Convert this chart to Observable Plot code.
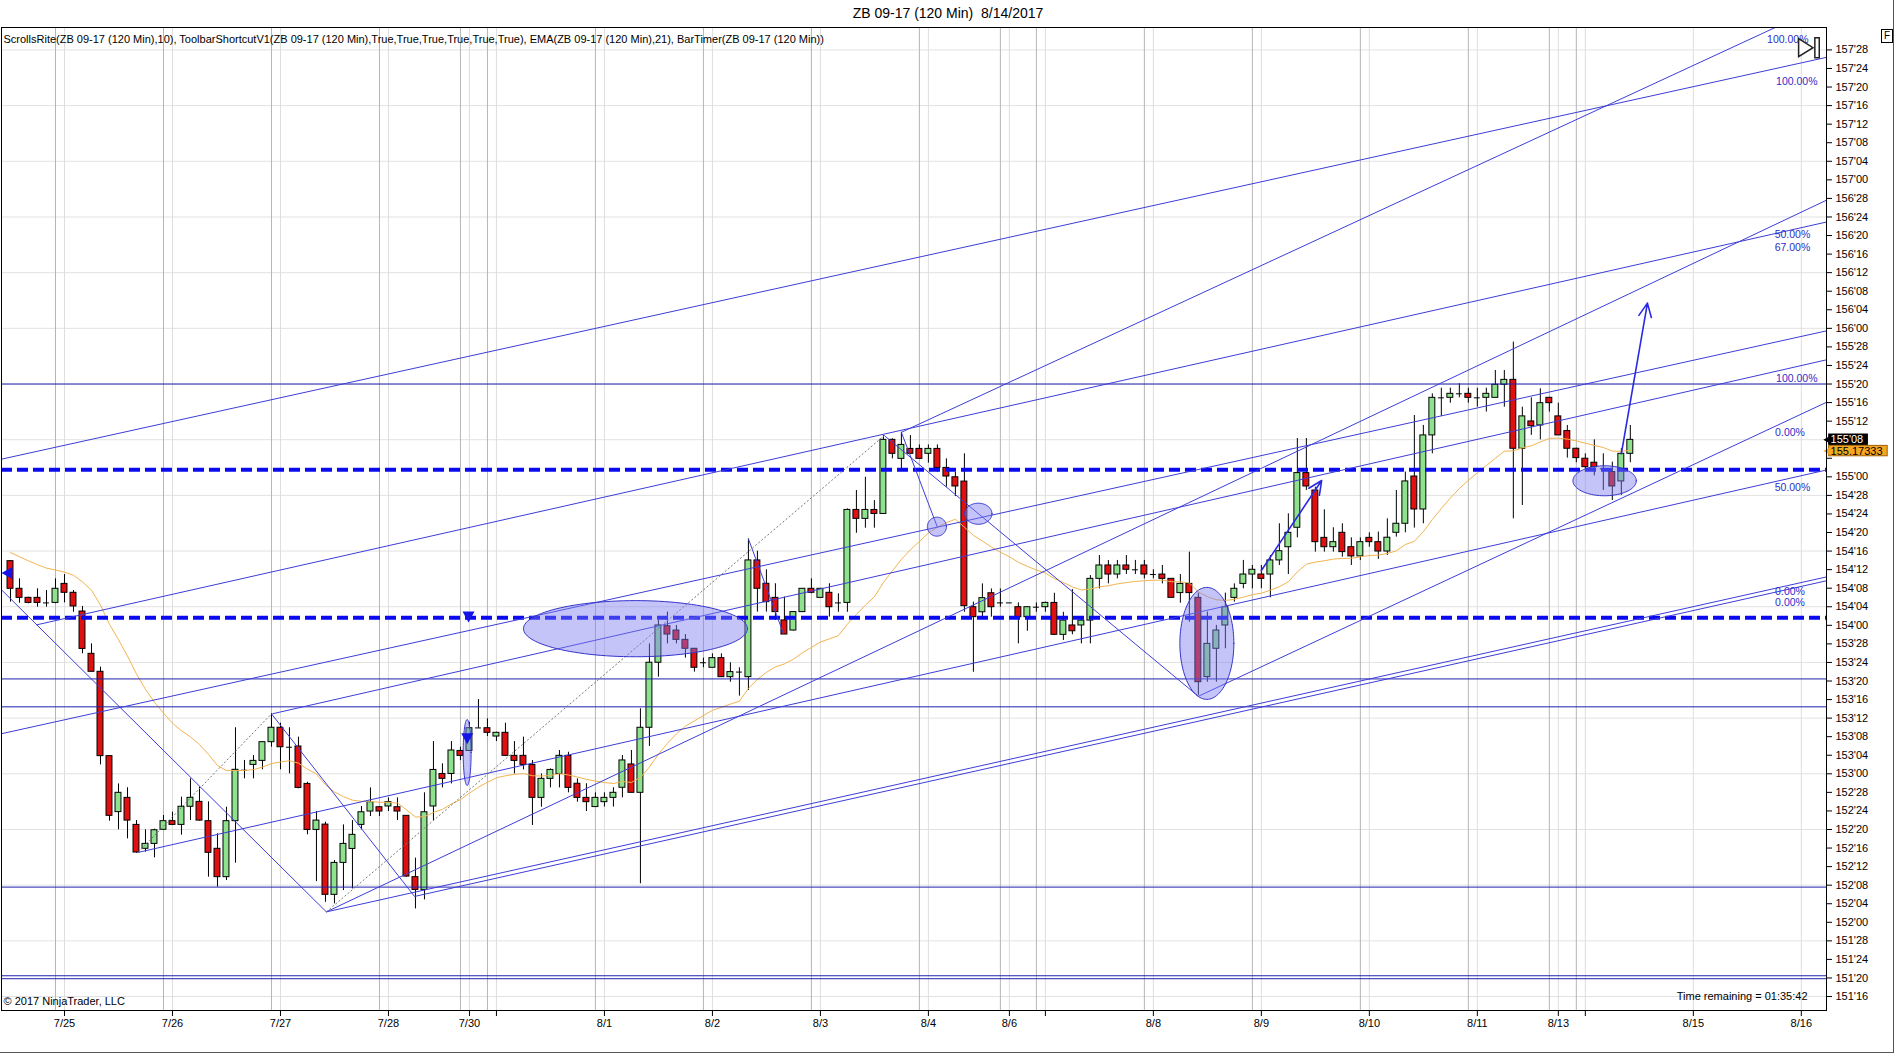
<!DOCTYPE html>
<html>
<head>
<meta charset="utf-8">
<script src="https://cdn.jsdelivr.net/npm/d3@7"></script>
<script src="https://cdn.jsdelivr.net/npm/@observablehq/plot@0.6"></script>
<style>
  body { margin: 0; background: #fff; font-family: "Liberation Sans", Arial, sans-serif; }
  #wrap { position: relative; width: 1896px; height: 1055px; overflow: hidden; }
  #title { height: 26px; line-height: 26px; text-align: center; font-size: 14px; white-space: pre; }
  #fbox { position: absolute; left: 1881px; top: 29px; width: 10px; height: 12px; border: 1px solid #000; font-size: 10px; line-height: 12px; text-align: center; background: #fff; }
  #edge { position: absolute; left: 0; top: 0; width: 1893px; height: 1052px; border-right: 1px solid #555; border-bottom: 1px solid #555; pointer-events: none; }
</style>
</head>
<body>
<div id="wrap">
  <div id="title">ZB 09-17 (120 Min)  8/14/2017</div>
  <div id="chart"></div>
  <div id="fbox">F</div>
  <div id="edge"></div>
</div>
<script>
// 120 min bars (bar 1 = leftmost)
const opens = [
  154.432,154.246,154.185,154.185,154.153,154.151,154.279,154.219,154.093,153.808,
  153.687,153.119,152.742,152.838,152.656,152.495,152.528,152.623,152.681,152.656,
  152.778,152.811,152.681,152.495,152.304,152.681,153.027,153.060,153.087,153.213,
  153.310,153.179,153.184,152.932,152.622,152.658,152.185,152.400,152.494,152.656,
  152.746,152.775,152.780,152.775,152.717,152.304,152.218,152.780,152.999,152.999,
  153.154,153.154,153.307,153.307,153.251,153.276,153.121,153.121,153.060,152.838,
  152.966,152.999,153.121,152.933,152.838,152.776,152.809,152.838,152.906,153.063,
  152.872,153.310,153.748,153.994,153.965,153.902,153.842,153.748,153.714,153.779,
  153.651,153.685,153.651,154.437,154.280,154.185,154.033,153.965,154.089,154.246,
  154.185,154.219,154.151,154.151,154.777,154.717,154.777,154.750,155.249,155.121,
  155.188,155.188,155.155,155.188,155.060,154.997,154.968,154.122,154.088,154.216,
  154.151,154.151,154.122,154.055,154.122,154.122,154.151,153.936,153.999,153.999,
  154.032,154.313,154.403,154.342,154.403,154.374,154.403,154.342,154.342,154.313,
  154.217,154.279,154.185,153.651,153.842,153.999,154.185,154.279,154.342,154.342,
  154.342,154.437,154.526,154.657,155.025,154.908,154.589,154.526,154.623,154.526,
  154.464,154.589,154.560,154.497,154.623,154.684,155.002,154.780,155.279,155.532,
  155.532,155.559,155.559,155.532,155.532,155.532,155.620,155.653,155.189,155.373,
  155.346,155.532,155.407,155.308,155.189,155.122,155.095,155.054,155.032,154.969,155.155
];
const highs = [
  154.436,154.313,154.189,154.246,154.234,154.313,154.342,154.234,154.127,153.875,
  153.718,153.119,152.932,152.906,152.685,152.623,152.627,152.719,152.742,152.843,
  152.966,152.910,152.811,152.596,152.775,153.310,153.090,153.123,153.217,153.404,
  153.341,153.310,153.247,152.943,152.746,152.674,152.416,152.656,152.685,152.780,
  152.905,152.780,152.838,152.838,152.717,152.432,152.872,153.217,153.067,153.217,
  153.179,153.347,153.500,153.370,153.280,153.341,153.217,153.247,153.089,152.999,
  153.033,153.157,153.145,152.966,152.933,152.872,152.872,152.906,153.123,153.157,
  153.438,153.875,154.033,154.089,153.999,153.938,153.842,153.779,153.808,153.808,
  153.748,153.714,154.582,154.499,154.374,154.280,154.190,154.093,154.246,154.313,
  154.246,154.280,154.212,154.784,154.908,154.997,154.840,155.278,155.256,155.300,
  155.278,155.215,155.215,155.215,155.121,155.031,155.155,154.156,154.279,154.245,
  154.245,154.151,154.151,154.122,154.151,154.156,154.216,154.088,154.241,154.055,
  154.335,154.470,154.436,154.437,154.470,154.437,154.437,154.374,154.403,154.313,
  154.342,154.493,154.217,154.089,153.999,154.217,154.279,154.437,154.403,154.403,
  154.470,154.684,154.751,155.258,155.258,154.930,154.778,154.657,154.684,154.589,
  154.589,154.623,154.628,154.717,154.908,155.032,155.413,155.346,155.559,155.597,
  155.597,155.627,155.597,155.597,155.597,155.716,155.716,155.907,155.469,155.532,
  155.593,155.536,155.496,155.346,155.193,155.155,155.249,155.155,155.099,155.189,155.346
];
const lows = [
  154.156,154.149,154.145,154.122,154.122,154.145,154.151,154.088,153.808,153.687,
  153.060,152.681,152.623,152.562,152.465,152.472,152.434,152.618,152.652,152.587,
  152.685,152.681,152.304,152.237,152.281,152.398,152.966,152.966,153.027,153.179,
  153.027,153.000,152.899,152.589,152.274,152.135,152.124,152.214,152.225,152.622,
  152.712,152.712,152.746,152.685,152.304,152.090,152.151,152.685,152.905,152.932,
  153.089,153.150,153.307,153.251,153.217,153.116,152.999,153.026,152.652,152.775,
  152.905,152.905,152.872,152.809,152.746,152.776,152.776,152.776,152.838,152.872,
  152.259,153.184,153.651,153.875,153.875,153.779,153.685,153.714,153.714,153.651,
  153.617,153.523,153.561,154.089,154.089,154.033,153.938,153.961,154.089,154.212,
  154.185,154.055,154.088,154.088,154.620,154.654,154.654,154.750,155.121,155.054,
  155.155,155.121,155.092,155.031,154.930,154.867,154.088,153.684,154.055,154.055,
  154.122,154.151,153.875,153.960,154.088,154.088,153.931,153.898,153.936,153.875,
  153.875,154.245,154.279,154.313,154.342,154.342,154.313,154.313,154.279,154.185,
  154.149,154.021,153.528,153.617,153.617,153.842,154.156,154.246,154.246,154.246,
  154.185,154.403,154.342,154.589,154.908,154.493,154.493,154.493,154.459,154.403,
  154.437,154.526,154.444,154.471,154.594,154.623,154.655,154.684,155.155,155.407,
  155.496,155.532,155.496,155.469,155.436,155.532,155.469,154.717,154.807,155.279,
  155.249,155.436,155.279,155.126,155.095,155.032,155.006,154.908,154.841,154.875,155.095
];
const closes = [
  154.246,154.185,154.151,154.151,154.151,154.246,154.219,154.127,153.841,153.687,
  153.119,152.717,152.872,152.685,152.470,152.528,152.620,152.681,152.656,152.778,
  152.838,152.685,152.468,152.304,152.681,153.027,153.024,153.087,153.213,153.310,
  153.179,153.179,152.905,152.622,152.685,152.185,152.400,152.528,152.589,152.741,
  152.809,152.746,152.809,152.746,152.308,152.218,152.741,153.026,152.966,153.157,
  153.121,153.307,153.309,153.276,153.276,153.121,153.087,153.060,152.838,152.966,
  153.026,153.121,152.905,152.838,152.809,152.838,152.838,152.872,153.090,152.872,
  153.310,153.748,153.999,153.938,153.902,153.842,153.714,153.748,153.779,153.651,
  153.685,153.685,154.437,154.246,154.156,154.089,153.938,154.089,154.246,154.219,
  154.246,154.122,154.151,154.777,154.717,154.777,154.750,155.249,155.155,155.215,
  155.155,155.121,155.188,155.060,155.002,154.935,154.129,154.055,154.183,154.122,
  154.151,154.151,154.055,154.122,154.122,154.151,153.936,154.032,153.960,154.032,
  154.313,154.403,154.342,154.403,154.374,154.374,154.342,154.342,154.313,154.185,
  154.279,154.217,153.617,153.875,153.965,154.122,154.246,154.342,154.374,154.313,
  154.437,154.499,154.623,155.025,154.935,154.560,154.526,154.560,154.493,154.464,
  154.560,154.560,154.497,154.590,154.684,154.969,154.780,155.279,155.532,155.532,
  155.559,155.559,155.532,155.532,155.559,155.620,155.653,155.189,155.407,155.341,
  155.496,155.496,155.279,155.189,155.126,155.065,155.065,155.054,154.935,155.155,155.249
];
const emaStart = 154.49;   // EMA(21) value at the first visible bar

// date axis (bar index) and session separators
const dateTickK = [7, 19, 31, 43, 52, 55, 67, 79, 91, 103, 112, 116, 128, 140, 152, 164, 173, 176, 188, 200];
const dateTickText = ["7/25","7/26","7/27","7/28","7/30","","8/1","8/2","8/3","8/4","8/6","","8/8","8/9","8/10","8/11","8/13","","8/15","8/16"];
const sessionK = [6, 18, 30, 42, 51, 54, 66, 78, 90, 102, 111, 115, 127, 139, 151, 163, 172, 175];

// drawn objects
const hLevels = [155.625, 153.639, 153.451, 152.237, 151.640, 151.620];
const dashLevels = [155.047, 154.051];
const trendK1 = [0, 0, 3.9, 15.2, 30.1, 36.1, 100, 133, 36.1, 45.9, 0, 30.0, 100, 98.1, 83];
const trendP1 = [155.119, 153.270, 154.003, 152.471, 153.404, 152.07, 155.300, 153.522, 152.07, 152.174, 154.239, 153.404, 155.300, 155.278, 154.582];
const trendK2 = [202.8, 202.8, 202.8, 202.8, 202.8, 202.8, 197.1, 202.8, 202.8, 202.8, 36.1, 45.9, 104.0, 133, 86.9];
const trendP2 = [157.825, 155.983, 156.716, 155.046, 155.788, 156.863, 158.026, 155.502, 154.326, 154.300, 152.07, 152.174, 154.661, 153.522, 153.943];
const dotK1 = [15.2, 36.1], dotP1 = [152.471, 152.07], dotK2 = [30.0, 98.1], dotP2 = [153.404, 155.278];
const arrowK1 = [140, 180], arrowP1 = [154.369, 155.155], arrowK2 = [146.7, 182.9], arrowP2 = [154.975, 156.17];
// ellipses as [bar from, bar to, price from, price to]
const ellipses = [
  [58.06, 82.94, 153.785, 154.163],
  [102.94, 105.06, 154.597, 154.725],
  [107.08, 110.12, 154.677, 154.819],
  [131.0, 137.0, 153.498, 154.252],
  [174.68, 181.72, 154.869, 155.071],
  [51.36, 52.24, 152.918, 153.362]
];
const chanText = ["100.00%", "100.00%", "50.00%", "67.00%", "100.00%", "0.00%", "50.00%", "0.00%", "0.00%"];
const chanK = [200.8, 201.8, 201.0, 201.0, 201.8, 200.4, 201.0, 200.4, 200.4];
const chanP = [157.945, 157.659, 156.632, 156.541, 155.662, 155.298, 154.925, 154.228, 154.152];
const markLeftK = [0.67], markLeftP = [154.352];
const markDownK = [51.9, 51.75], markDownP = [154.06, 153.24];
const iconK = [200.5, 201.75], iconP = [157.89, 157.89];   // scroll-to-end button
const badgeP = [155.25, 155.17333];
const badgeText = ["155'08", "155.17333"];
const hiddenTicks = [155.25, 155.125];   // axis labels covered by the price badges
const headerText = "ScrollsRite(ZB 09-17 (120 Min),10), ToolbarShortcutV1(ZB 09-17 (120 Min),True,True,True,True,True,True), EMA(ZB 09-17 (120 Min),21), BarTimer(ZB 09-17 (120 Min))";

// build tables
const bars = closes.map((c, i) => ({k: i + 1, o: opens[i], h: highs[i], l: lows[i], c}));
const ema = [];
closes.forEach((c, i) => ema.push(i === 0 ? emaStart : ema[i - 1] + (2 / 22) * (c - ema[i - 1])));
const emaRows = ema.map((v, i) => ({k: i + 1, v}));
const doji = bars.filter(d => Math.abs(d.c - d.o) < 0.004);
const ups = bars.filter(d => d.c - d.o >= 0.004);
const downs = bars.filter(d => d.o - d.c >= 0.004);
const trends = trendK1.map((k, i) => ({x1: k, y1: trendP1[i], x2: trendK2[i], y2: trendP2[i]}));
const dotted = dotK1.map((k, i) => ({x1: k, y1: dotP1[i], x2: dotK2[i], y2: dotP2[i]}));
const arrows = arrowK1.map((k, i) => ({x1: k, y1: arrowP1[i], x2: arrowK2[i], y2: arrowP2[i]}));
const ellRows = ellipses.flatMap(([k1, k2, p1, p2], id) => {
  const cx = (k1 + k2) / 2, cy = (p1 + p2) / 2, rx = (k2 - k1) / 2, ry = (p2 - p1) / 2;
  return d3.range(0, 61).map(j => {
    const t = Math.PI * j / 60;
    return {id, x: cx + rx * Math.cos(t), y1: cy - ry * Math.sin(t), y2: cy + ry * Math.sin(t)};
  });
});
const chanRows = chanText.map((t, i) => ({t, k: chanK[i], p: chanP[i]}));
const markLeft = markLeftK.map((k, i) => ({k, p: markLeftP[i]}));
const markDown = markDownK.map((k, i) => ({k, p: markDownP[i]}));

const xMax = 202.8, yMin = 151.406, yMax = 158.026;
const yTicks = d3.range(0, 52).map(i => 151.5 + i * 0.125);
const gridP = d3.range(0, 18).map(i => 151.5 + i * 0.375);
const fmt32 = d => {
  if (hiddenTicks.some(h => Math.abs(h - d) < 1e-6)) return "";
  const w = Math.floor(d + 1e-9);
  return w + "'" + String(Math.round((d - w) * 32)).padStart(2, "0");
};
const dateLabel = new Map(dateTickK.map((k, i) => [k, dateTickText[i]]));

const triLeft = {draw(c, s) { const r = Math.sqrt(s / Math.PI); c.moveTo(-r, 0); c.lineTo(r * 0.8, -r); c.lineTo(r * 0.8, r); c.closePath(); }};
const triDown = {draw(c, s) { const r = Math.sqrt(s / Math.PI); c.moveTo(-r, -r * 0.8); c.lineTo(r, -r * 0.8); c.lineTo(0, r); c.closePath(); }};
const triRight = {draw(c, s) { const r = Math.sqrt(s / Math.PI); c.moveTo(-r * 0.8, -r); c.lineTo(r * 0.8, 0); c.lineTo(-r * 0.8, r); c.closePath(); }};
const slimBar = {draw(c, s) { const r = Math.sqrt(s / Math.PI); c.rect(-r * 0.22, -r, r * 0.44, r * 2); }};

const blue = "#3d3dd9";
const half = 0.33;   // half body width, in bars

const chart = Plot.plot({
  width: 1896,
  height: 1029,
  marginTop: 1,
  marginLeft: 1,
  marginRight: 70,
  marginBottom: 45,
  style: {fontFamily: '"Liberation Sans", Arial, sans-serif', fontSize: "11px", background: "white", overflow: "visible", color: "black"},
  x: {domain: [0, xMax], ticks: dateTickK, tickFormat: k => dateLabel.get(k) ?? "", tickSize: 6, label: null},
  y: {domain: [yMin, yMax], axis: "right", ticks: yTicks, tickFormat: fmt32, tickSize: 5, label: null},
  marks: [
    Plot.ruleY(gridP, {stroke: "#e2e2e2"}),
    Plot.ruleX(dateTickK, {stroke: "#dedede"}),
    Plot.ruleX(sessionK, {stroke: "#b5b5b5"}),
    // candles
    Plot.ruleX(bars, {x: "k", y1: "l", y2: "h", stroke: "black"}),
    Plot.rect(ups, {x1: d => d.k - half, x2: d => d.k + half, y1: "o", y2: "c", fill: "#8ee28e", stroke: "black"}),
    Plot.rect(downs, {x1: d => d.k - half, x2: d => d.k + half, y1: "o", y2: "c", fill: "#e01010", stroke: "black"}),
    Plot.ruleY(doji, {y: "c", x1: d => d.k - half, x2: d => d.k + half, stroke: "black"}),
    Plot.line(emaRows, {x: "k", y: "v", stroke: "#f2b450", strokeWidth: 1}),
    // drawing objects
    Plot.ruleY(hLevels, {stroke: "#2020b0"}),
    Plot.ruleY(dashLevels, {stroke: "#0a0af0", strokeWidth: 4, strokeDasharray: "11,5"}),
    Plot.link(trends, {x1: "x1", y1: "y1", x2: "x2", y2: "y2", stroke: blue}),
    Plot.link(dotted, {x1: "x1", y1: "y1", x2: "x2", y2: "y2", stroke: "#777", strokeDasharray: "2,2"}),
    Plot.areaY(ellRows, {x: "x", y1: "y1", y2: "y2", z: "id", fill: "#7d7df0", fillOpacity: 0.45, stroke: "#3434cc", strokeWidth: 1}),
    Plot.arrow(arrows, {x1: "x1", y1: "y1", x2: "x2", y2: "y2", stroke: "#2a2ae0", strokeWidth: 1.6, headLength: 14, headAngle: 50}),
    Plot.dot(markLeft, {x: "k", y: "p", symbol: triLeft, r: 6, fill: "#1414e6", stroke: null}),
    Plot.dot(markDown, {x: "k", y: "p", symbol: triDown, r: 6, fill: "#1414e6", stroke: null}),
    Plot.text(chanRows, {x: "k", y: "p", text: "t", textAnchor: "end", fill: "#2d2dc8", fontSize: 10.5}),
    // scroll-to-end button
    Plot.dot([0], {x: () => iconK[0], y: () => iconP[0], symbol: triRight, r: 9, fill: "white", stroke: "#222"}),
    Plot.dot([0], {x: () => iconK[1], y: () => iconP[1], symbol: slimBar, r: 10, fill: "white", stroke: "#222"}),
    // chart texts
    Plot.text([headerText], {frameAnchor: "top-left", textAnchor: "start", lineAnchor: "middle", dx: 2, dy: 12, fontSize: 11}),
    Plot.text(["© 2017 NinjaTrader, LLC"], {frameAnchor: "bottom-left", textAnchor: "start", lineAnchor: "middle", dx: 2, dy: -9, fontSize: 11}),
    Plot.text(["Time remaining = 01:35:42"], {frameAnchor: "bottom-right", textAnchor: "end", lineAnchor: "middle", dx: -19, dy: -14, fontSize: 11}),
    // price badges on the axis
    Plot.rect(badgeP, {x1: xMax + 0.3, x2: (d, i) => xMax + (i === 0 ? 4.6 : 6.8), y1: d => d - 0.035, y2: d => d + 0.035, fill: (d, i) => i === 0 ? "black" : "#f5a623", stroke: (d, i) => i === 0 ? "black" : "#a06000"}),
    Plot.dot(badgeP, {x: xMax + 0.2, y: d => d, symbol: triLeft, r: 5, fill: (d, i) => i === 0 ? "black" : "#f5a623", stroke: null}),
    Plot.text(badgeP, {x: xMax + 0.45, y: d => d, text: (d, i) => badgeText[i], textAnchor: "start", fill: (d, i) => i === 0 ? "white" : "black", fontSize: 11}),
    Plot.frame({stroke: "black"})
  ]
});
document.getElementById("chart").append(chart);
</script>
</body>
</html>
